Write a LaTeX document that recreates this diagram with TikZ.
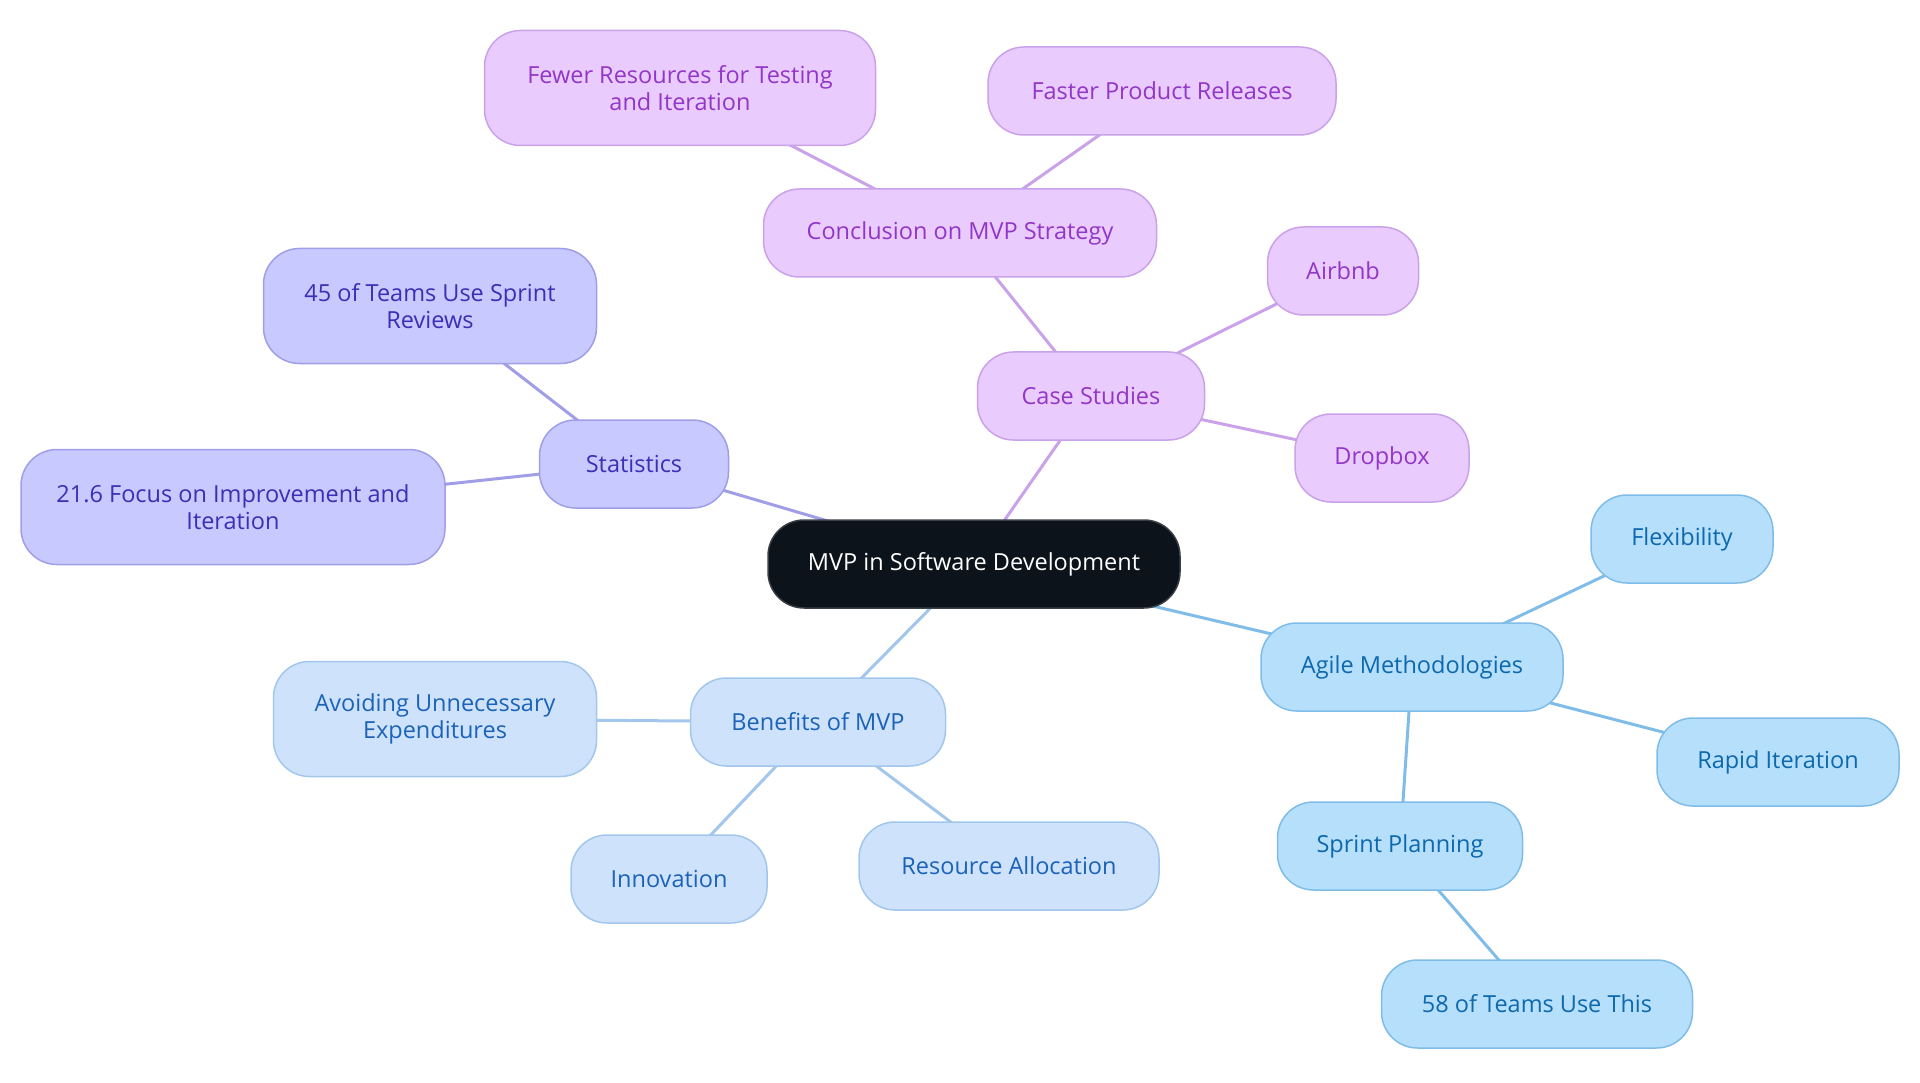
\documentclass[tikz,border=0pt]{standalone}
\usepackage{fontspec}
\setmainfont{Open Sans}
\usetikzlibrary{positioning,backgrounds}

\definecolor{coreFill}{HTML}{0C131B}
\definecolor{coreLine}{HTML}{3A3F45}
\definecolor{caseFill}{HTML}{E9CBFE}
\definecolor{caseLine}{HTML}{C9A2E9}
\definecolor{caseText}{HTML}{9236C8}
\definecolor{statFill}{HTML}{C8C9FE}
\definecolor{statLine}{HTML}{A09EE7}
\definecolor{statText}{HTML}{3A2FB5}
\definecolor{agileFill}{HTML}{B5DFFB}
\definecolor{agileLine}{HTML}{7FBDE8}
\definecolor{agileText}{HTML}{0D68AE}
\definecolor{benFill}{HTML}{CEE3FB}
\definecolor{benLine}{HTML}{A2C6EC}
\definecolor{benText}{HTML}{1B62B8}

\tikzset{
  topic/.style={rounded corners=36pt, draw, line width=1.5pt, inner sep=0pt,
    align=center, font=\fontsize{23.5}{27}\selectfont, minimum height=88pt},
  tall/.style={minimum height=115pt},
  core/.style={topic, fill=coreFill, draw=coreLine, text=white},
  casebox/.style={topic, fill=caseFill, draw=caseLine, text=caseText},
  statbox/.style={topic, fill=statFill, draw=statLine, text=statText},
  agilebox/.style={topic, fill=agileFill, draw=agileLine, text=agileText},
  benbox/.style={topic, fill=benFill, draw=benLine, text=benText},
  link/.style={line width=3pt}
}

\begin{document}
\begin{tikzpicture}[x=1pt,y=-1pt]
    \useasboundingbox (0,0) rectangle (1920,1083);

    % Centre
    \node[core, minimum width=412pt] (mvp) at (974,564) {MVP in Software Development};

    % Case studies branch
    \node[casebox, minimum width=227pt] (cases) at (1091,396) {Case Studies};
    \node[casebox, minimum width=393pt] (concl) at (960,233) {Conclusion on MVP Strategy};
    \node[casebox, tall, minimum width=391pt] (fewer) at (680,88) {Fewer Resources for Testing\\and Iteration};
    \node[casebox, minimum width=348pt] (faster) at (1162,91) {Faster Product Releases};
    \node[casebox, minimum width=151pt] (airbnb) at (1343,271) {Airbnb};
    \node[casebox, minimum width=174pt] (dropbox) at (1382,458) {Dropbox};

    % Statistics branch
    \node[statbox, minimum width=189pt] (stats) at (634,464) {Statistics};
    \node[statbox, tall, minimum width=333pt] (reviews) at (430,306) {45 of Teams Use Sprint\\Reviews};
    \node[statbox, tall, minimum width=424pt] (focus) at (233,507) {21.6 Focus on Improvement and\\Iteration};

    % Agile branch
    \node[agilebox, minimum width=302pt] (agile) at (1412,667) {Agile Methodologies};
    \node[agilebox, minimum width=182pt] (flex) at (1682,539) {Flexibility};
    \node[agilebox, minimum width=242pt] (rapid) at (1778,762) {Rapid Iteration};
    \node[agilebox, minimum width=245pt] (sprint) at (1400,846) {Sprint Planning};
    \node[agilebox, minimum width=311pt] (teams) at (1537,1004) {58 of Teams Use This};

    % Benefits branch
    \node[benbox, minimum width=255pt] (benefits) at (818,722) {Benefits of MVP};
    \node[benbox, tall, minimum width=323pt] (avoid) at (435,719) {Avoiding Unnecessary\\Expenditures};
    \node[benbox, minimum width=196pt] (innov) at (669,879) {Innovation};
    \node[benbox, minimum width=300pt] (alloc) at (1009,866) {Resource Allocation};

    % Links, centre to centre behind the boxes
    \begin{scope}[on background layer]
        \draw[link, caseLine] (mvp.center) -- (cases.center);
        \draw[link, caseLine] (cases.center) -- (concl.center);
        \draw[link, caseLine] (concl.center) -- (fewer.center);
        \draw[link, caseLine] (concl.center) -- (faster.center);
        \draw[link, caseLine] (cases.center) -- (airbnb.center);
        \draw[link, caseLine] (cases.center) -- (dropbox.center);
        \draw[link, statLine] (mvp.center) -- (stats.center);
        \draw[link, statLine] (stats.center) -- (reviews.center);
        \draw[link, statLine] (stats.center) -- (focus.center);
        \draw[link, agileLine] (mvp.center) -- (agile.center);
        \draw[link, agileLine] (agile.center) -- (flex.center);
        \draw[link, agileLine] (agile.center) -- (rapid.center);
        \draw[link, agileLine] (agile.center) -- (sprint.center);
        \draw[link, agileLine] (sprint.center) -- (teams.center);
        \draw[link, benLine] (mvp.center) -- (benefits.center);
        \draw[link, benLine] (benefits.center) -- (avoid.center);
        \draw[link, benLine] (benefits.center) -- (innov.center);
        \draw[link, benLine] (benefits.center) -- (alloc.center);
    \end{scope}
\end{tikzpicture}
\end{document}
